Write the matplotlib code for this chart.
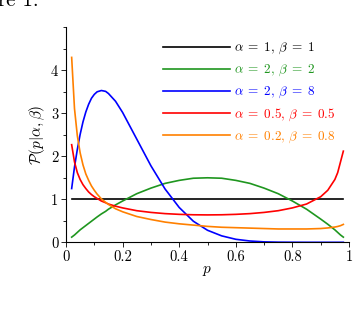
import matplotlib
matplotlib.use("Agg")
import matplotlib.pyplot as plt
from matplotlib.ticker import MultipleLocator, FuncFormatter

plt.rcParams['font.family'] = 'cmr10'
plt.rcParams['mathtext.fontset'] = 'cm'
plt.rcParams['axes.formatter.use_mathtext'] = True

# values
p = [0.02, 0.03, 0.04, 0.05, 0.06, 0.07, 0.08, 0.09, 0.10, 0.11, 0.125, 0.14, 0.15,
     0.175, 0.2, 0.25, 0.3, 0.35, 0.4, 0.45, 0.5, 0.55, 0.6, 0.65, 0.7, 0.75, 0.8,
     0.85, 0.9, 0.925, 0.95, 0.96, 0.97, 0.98]

b11 = [1.0] * len(p)
b22 = [0.12, 0.17, 0.23, 0.29, 0.34, 0.39, 0.44, 0.49, 0.54, 0.59, 0.66, 0.72, 0.77,
       0.87, 0.96, 1.13, 1.26, 1.37, 1.44, 1.49, 1.50, 1.49, 1.44, 1.37, 1.26, 1.13, 0.96,
       0.77, 0.54, 0.42, 0.29, 0.23, 0.17, 0.12]
b28 = [1.25, 1.75, 2.16, 2.51, 2.80, 3.03, 3.21, 3.35, 3.44, 3.50, 3.53, 3.51, 3.46,
       3.28, 3.02, 2.40, 1.78, 1.24, 0.81, 0.49, 0.28, 0.15, 0.07, 0.03, 0.01, 0.003, 0.001,
       0, 0, 0, 0, 0, 0, 0]
b55 = [2.27, 1.87, 1.62, 1.46, 1.34, 1.25, 1.17, 1.11, 1.06, 1.02, 0.96, 0.92, 0.89,
       0.84, 0.80, 0.735, 0.695, 0.667, 0.65, 0.64, 0.637, 0.64, 0.65, 0.667, 0.695, 0.735, 0.80,
       0.89, 1.06, 1.21, 1.46, 1.62, 1.87, 2.12]
b0208 = [4.30, 3.11, 2.48, 2.08, 1.80, 1.59, 1.44, 1.31, 1.21, 1.12, 1.01, 0.93, 0.88,
         0.78, 0.71, 0.60, 0.53, 0.47, 0.43, 0.40, 0.37, 0.35, 0.34, 0.33, 0.32, 0.31, 0.31,
         0.31, 0.32, 0.334, 0.355, 0.368, 0.387, 0.416]

series = [b11, b22, b28, b55, b0208]
labels = [r'$\alpha\;=\;1,\,\beta\;=\;1$', r'$\alpha\;=\;2,\,\beta\;=\;2$',
          r'$\alpha\;=\;2,\,\beta\;=\;8$', r'$\alpha\;=\;0.5,\,\beta\;=\;0.5$',
          r'$\alpha\;=\;0.2,\,\beta\;=\;0.8$']
colors = ['black', '#1f961f', '#0000ff', '#ff0000', '#ff8000']

fig = plt.figure(figsize=(3.54, 3.12), dpi=100)
ax = fig.add_axes([66 / 354, 69.7 / 312, 283 / 354, 215 / 312])

for y, lab, c in zip(series, labels, colors):
    ax.plot(p, y, color=c, lw=1.2, label=lab)

ax.set_xlim(0, 1)
ax.set_ylim(0, 5)
ax.spines['top'].set_visible(False)
ax.spines['right'].set_visible(False)
ax.spines['left'].set_linewidth(0.8)
ax.spines['bottom'].set_linewidth(0.8)
ax.set_xticks([0, 0.2, 0.4, 0.6, 0.8, 1.0])
ax.xaxis.set_minor_locator(MultipleLocator(0.1))
ax.set_yticks([0, 1, 2, 3, 4])
ax.yaxis.set_minor_locator(MultipleLocator(0.5))
ax.xaxis.set_major_formatter(FuncFormatter(lambda v, pos: '%g' % round(v, 1)))
ax.yaxis.set_major_formatter(FuncFormatter(lambda v, pos: '%d' % v))
ax.tick_params(which='major', length=3.5, width=0.6, labelsize=10.5, pad=2)
ax.tick_params(which='minor', length=2, width=0.6)
ax.set_xlabel(r'$p$', fontsize=11, labelpad=0)
ax.set_ylabel(r'$\mathcal{P}(p|\alpha,\beta)$', fontsize=11, labelpad=3)

leg = ax.legend(loc='upper left', bbox_to_anchor=(163 / 354, 1 - 41 / 312),
                bbox_transform=fig.transFigure, frameon=False, fontsize=9.5,
                handlelength=5.1, handletextpad=0.3, labelspacing=0.5,
                borderaxespad=0, borderpad=0)
for t, c in zip(leg.get_texts(), colors):
    t.set_color(c)

# fragments of the surrounding caption text
fig.text(-0.005, 1 - 6 / 312, 're 1.', fontsize=15, va='baseline', ha='left')
fig.text(0.008, 1 - 326 / 312, r'ions for different cases $\alpha$ and $\beta$',
         fontsize=15, va='baseline', ha='left', fontweight='bold')

fig.savefig('out.png', dpi=100)
